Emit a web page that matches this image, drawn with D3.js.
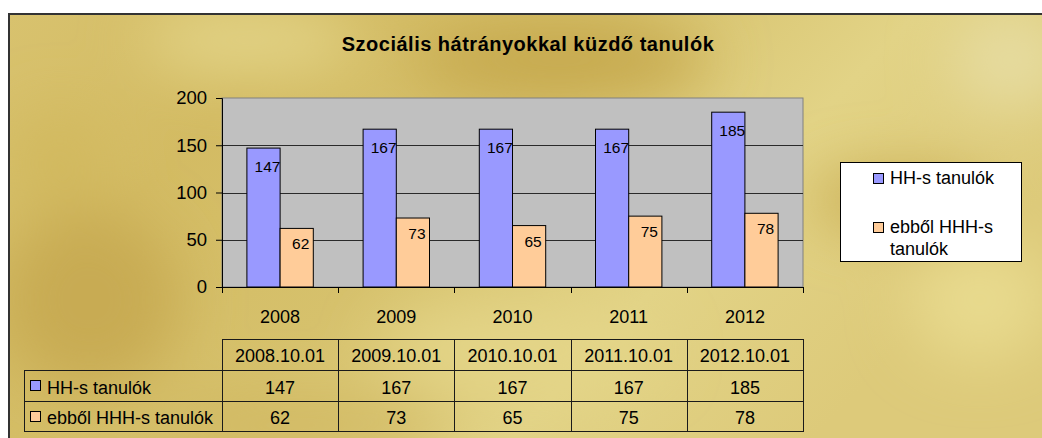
<!DOCTYPE html>
<html>
<head>
<meta charset="utf-8">
<script src="https://cdn.jsdelivr.net/npm/d3@7"></script>
<style>
  html, body { margin: 0; padding: 0; background: #ffffff; }
  svg { display: block; font-family: "Liberation Sans", Arial, sans-serif; }
</style>
</head>
<body>
<div id="chart"></div>
<script>
// Chart data
const years = ['2008', '2009', '2010', '2011', '2012'];
const dates = ['2008.10.01', '2009.10.01', '2010.10.01', '2011.10.01', '2012.10.01'];
const seriesNames = ['HH-s tanulók', 'ebből HHH-s tanulók'];
const hhValues = [147, 167, 167, 167, 185];
const hhhValues = [62, 73, 65, 75, 78];
const yTicks = [0, 50, 100, 150, 200];
const title = 'Szociális hátrányokkal küzdő tanulók';

const COLORS = ['#9999ff', '#ffcc99'];
const W = 1042, H = 438;
const FONT = '18px';

const svg = d3.select('#chart').append('svg')
  .attr('width', W)
  .attr('height', H);

// Gold textured background
const defs = svg.append('defs');
const base = defs.append('linearGradient').attr('id', 'gold')
  .attr('x1', 0).attr('y1', 0).attr('x2', 1).attr('y2', 0.4);
[['0%', '#d8c26e'], ['25%', '#d3bb63'], ['50%', '#d6c16c'], ['75%', '#e2d386'], ['100%', '#ddca7a']]
  .forEach(([o, c]) => base.append('stop').attr('offset', o).attr('stop-color', c));

const blur = defs.append('filter').attr('id', 'soft')
  .attr('x', '-50%').attr('y', '-50%').attr('width', '200%').attr('height', '200%');
blur.append('feGaussianBlur').attr('stdDeviation', 30);

defs.append('clipPath').attr('id', 'frameClip')
  .append('rect').attr('x', 8).attr('y', 14).attr('width', W).attr('height', H);
const bg = svg.append('g').attr('clip-path', 'url(#frameClip)');

bg.append('rect').attr('x', 8).attr('y', 14).attr('width', W).attr('height', H)
  .attr('fill', 'url(#gold)');

const blobs = [
  { cx: 560, cy: 60, rx: 150, ry: 40, c: '#c6a94e' },
  { cx: 250, cy: 40, rx: 110, ry: 35, c: '#e2d386' },
  { cx: 900, cy: 200, rx: 90, ry: 30, c: '#c9ad52' },
  { cx: 90, cy: 300, rx: 90, ry: 90, c: '#c8ab53' },
  { cx: 60, cy: 160, rx: 50, ry: 50, c: '#d2b95f' },
  { cx: 980, cy: 300, rx: 70, ry: 60, c: '#e8da8e' },
  { cx: 520, cy: 350, rx: 140, ry: 40, c: '#e4d588' },
  { cx: 300, cy: 425, rx: 150, ry: 25, c: '#d0b760' },
  { cx: 1010, cy: 60, rx: 60, ry: 50, c: '#e6dca0' }
];
bg.append('g').attr('filter', 'url(#soft)')
  .selectAll('ellipse').data(blobs).enter().append('ellipse')
  .attr('cx', d => d.cx).attr('cy', d => d.cy)
  .attr('rx', d => d.rx).attr('ry', d => d.ry)
  .attr('fill', d => d.c);

// Frame border
svg.append('path')
  .attr('d', `M9,${H} V14 H${W}`)
  .attr('fill', 'none')
  .attr('stroke', '#333333')
  .attr('stroke-width', 2);

// Title
svg.append('text')
  .attr('x', 528).attr('y', 51)
  .attr('text-anchor', 'middle')
  .attr('font-size', '20px')
  .attr('letter-spacing', '0.5px')
  .attr('font-weight', 'bold')
  .attr('fill', '#000')
  .text(title);

// Plot area
const plot = { left: 222, right: 803, top: 98, bottom: 287 };

const x = d3.scaleBand()
  .domain(years)
  .range([plot.left, plot.right]);

// gap width 150% -> two bars take 2/3.5 of the band
const inner = d3.scaleBand()
  .domain([0, 1])
  .range([0, x.bandwidth() * 2 / 3.5]);

const y = d3.scaleLinear()
  .domain([0, 200])
  .range([plot.bottom, plot.top]);

svg.append('rect')
  .attr('x', plot.left).attr('y', plot.top)
  .attr('width', plot.right - plot.left).attr('height', plot.bottom - plot.top)
  .attr('fill', '#c0c0c0')
  .attr('stroke', '#808080')
  .attr('stroke-width', 1);

// Gridlines
svg.append('g')
  .selectAll('line')
  .data(yTicks.filter(t => t > 0 && t < 200))
  .enter().append('line')
  .attr('x1', plot.left).attr('x2', plot.right)
  .attr('y1', d => Math.round(y(d)) + 0.5).attr('y2', d => Math.round(y(d)) + 0.5)
  .attr('stroke', '#2a2a2a')
  .attr('stroke-width', 1);

// Y axis
const yAxis = svg.append('g')
  .attr('transform', `translate(${plot.left},0)`)
  .call(d3.axisLeft(y).tickValues(yTicks).tickSize(6).tickPadding(9));
yAxis.select('.domain').attr('stroke', '#000');
yAxis.selectAll('line').attr('stroke', '#000');
yAxis.selectAll('text').attr('font-size', '18.5px').attr('fill', '#000')
  .attr('font-family', '"Liberation Sans", Arial, sans-serif');

// X axis (category separators)
const xAxisG = svg.append('g').attr('transform', `translate(0,${plot.bottom})`);
xAxisG.append('line')
  .attr('x1', plot.left).attr('x2', plot.right)
  .attr('y1', 0.5).attr('y2', 0.5)
  .attr('stroke', '#000');
xAxisG.selectAll('.sep')
  .data(years.map(d => x(d)).concat([plot.right]))
  .enter().append('line')
  .attr('x1', d => Math.round(d) + 0.5).attr('x2', d => Math.round(d) + 0.5)
  .attr('y1', 0).attr('y2', 6)
  .attr('stroke', '#000');
xAxisG.selectAll('.cat')
  .data(years)
  .enter().append('text')
  .attr('x', d => x(d) + x.bandwidth() / 2)
  .attr('y', 36)
  .attr('text-anchor', 'middle')
  .attr('font-size', FONT)
  .attr('fill', '#000')
  .text(d => d);

// Bars
const series = [hhValues, hhhValues];
const groupOffset = (x.bandwidth() - inner.range()[1]) / 2;
series.forEach((vals, si) => {
  const g = svg.append('g');
  g.selectAll('rect')
    .data(vals)
    .enter().append('rect')
    .attr('x', (d, i) => x(years[i]) + groupOffset + inner(si))
    .attr('y', d => y(d))
    .attr('width', inner.bandwidth())
    .attr('height', d => plot.bottom - y(d))
    .attr('fill', COLORS[si])
    .attr('stroke', '#000')
    .attr('stroke-width', 1);

  g.selectAll('text')
    .data(vals)
    .enter().append('text')
    .attr('x', (d, i) => x(years[i]) + groupOffset + inner(si) + inner.bandwidth() / 2 + 4)
    .attr('y', d => y(d) + (si === 0 ? 24 : 21))
    .attr('text-anchor', 'middle')
    .attr('font-size', '15.5px')
    .attr('fill', '#000')
    .text(d => d);
});

// Legend
const legend = svg.append('g');
legend.append('rect')
  .attr('x', 840.5).attr('y', 162.5)
  .attr('width', 181).attr('height', 99)
  .attr('fill', '#ffffff')
  .attr('stroke', '#000')
  .attr('stroke-width', 1);

const legendLines = [['HH-s tanulók'], ['ebből HHH-s', 'tanulók']];
legendLines.forEach((lines, i) => {
  const ly = 173 + i * 49;
  legend.append('rect')
    .attr('x', 873.5).attr('y', ly + 0.5)
    .attr('width', 10).attr('height', 10)
    .attr('fill', COLORS[i])
    .attr('stroke', '#000');
  lines.forEach((t, j) => {
    legend.append('text')
      .attr('x', 890)
      .attr('y', ly + 11 + j * 22)
      .attr('font-size', FONT)
      .attr('fill', '#000')
      .text(t);
  });
});

// Data table
const table = svg.append('g');
const rowY = [339.5, 370.5, 401.5, 431.5];
const colX = years.map(d => x(d)).concat([plot.right]);
const labelLeft = 24;

// header row (dates)
table.append('rect')
  .attr('x', plot.left + 0.5).attr('y', rowY[0])
  .attr('width', plot.right - plot.left).attr('height', rowY[1] - rowY[0])
  .attr('fill', 'none').attr('stroke', '#1a1a1a');
table.selectAll('.hdr')
  .data(dates)
  .enter().append('text')
  .attr('x', (d, i) => x(years[i]) + x.bandwidth() / 2)
  .attr('y', (rowY[0] + rowY[1]) / 2 + 7)
  .attr('text-anchor', 'middle')
  .attr('font-size', FONT)
  .attr('fill', '#000')
  .text(d => d);

// data rows
series.forEach((vals, si) => {
  const top = rowY[si + 1], bot = rowY[si + 2];
  table.append('rect')
    .attr('x', labelLeft + 0.5).attr('y', top)
    .attr('width', plot.right - labelLeft).attr('height', bot - top)
    .attr('fill', 'none').attr('stroke', '#1a1a1a');
  table.append('rect')
    .attr('x', labelLeft + 6.5).attr('y', Math.round((top + bot) / 2) - 5.5)
    .attr('width', 10).attr('height', 10)
    .attr('fill', COLORS[si])
    .attr('stroke', '#000');
  table.append('text')
    .attr('x', labelLeft + 23)
    .attr('y', (top + bot) / 2 + 7.5)
    .attr('font-size', FONT)
    .attr('fill', '#000')
    .text(seriesNames[si]);
  table.selectAll('.v' + si)
    .data(vals)
    .enter().append('text')
    .attr('x', (d, i) => x(years[i]) + x.bandwidth() / 2)
    .attr('y', (top + bot) / 2 + 7.5)
    .attr('text-anchor', 'middle')
    .attr('font-size', FONT)
    .attr('fill', '#000')
    .text(d => d);
});

// vertical lines of the table
table.selectAll('.vl')
  .data(colX)
  .enter().append('line')
  .attr('x1', d => Math.round(d) + 0.5).attr('x2', d => Math.round(d) + 0.5)
  .attr('y1', rowY[0]).attr('y2', rowY[3])
  .attr('stroke', '#1a1a1a');
</script>
</body>
</html>
